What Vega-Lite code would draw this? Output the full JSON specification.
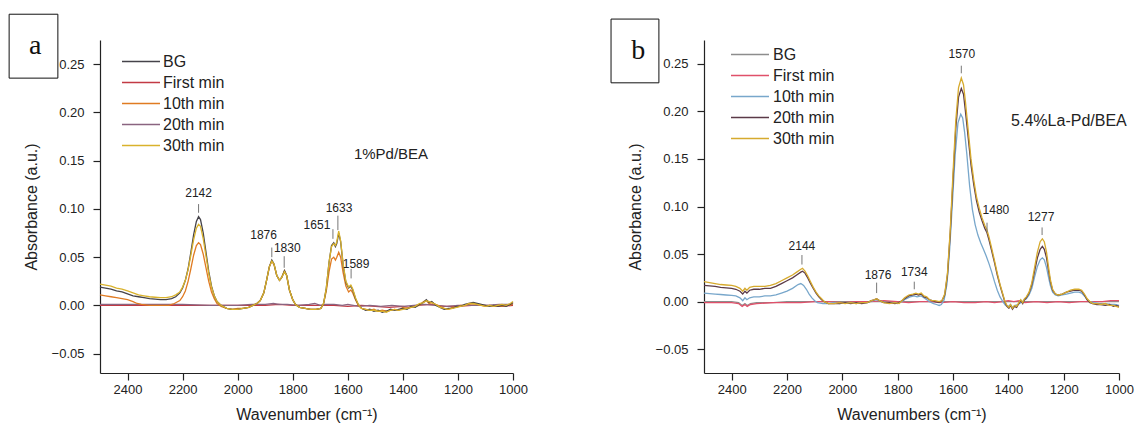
{
"$schema":"https://vega.github.io/schema/vega-lite/v6.json",
"background":"white",
"autosize":{"type":"pad"},
"padding":{"left":8,"top":13,"right":4,"bottom":4},
"bounds":"flush",
"spacing":191,
"config":{"view":{"stroke":null},"font":"Liberation Sans",
"axis":{"grid":false,"domainColor":"#222","domainWidth":1.2,"tickColor":"#222","tickWidth":1.2,"labelFont":"Liberation Sans","labelFontSize":13,"labelColor":"#222","titleFont":"Liberation Sans","titleFontSize":16,"titleFontWeight":"normal","titleColor":"#222","labelPadding":3,"labelFlush":false,"labelOverlap":false,"labelBound":false}},
"resolve":{"scale":{"color":"independent","x":"independent","y":"independent"},"legend":{"color":"independent"},"axis":{"x":"independent","y":"independent"}},
"datasets":{
"la":[
{"s":"First min","w":2500,"v":0.000},{"s":"First min","w":2450,"v":0.000},{"s":"First min","w":2400,"v":0.000},{"s":"First min","w":2350,"v":0.000},{"s":"First min","w":2300,"v":0.000},{"s":"First min","w":2250,"v":0.000},{"s":"First min","w":2200,"v":0.000},{"s":"First min","w":2150,"v":0.000},{"s":"First min","w":2100,"v":0.000},{"s":"First min","w":2050,"v":0.000},{"s":"First min","w":2000,"v":0.000},{"s":"First min","w":1950,"v":0.000},{"s":"First min","w":1900,"v":0.000},{"s":"First min","w":1850,"v":0.001},{"s":"First min","w":1800,"v":0.000},{"s":"First min","w":1750,"v":0.000},{"s":"First min","w":1700,"v":0.000},{"s":"First min","w":1650,"v":0.000},{"s":"First min","w":1600,"v":-0.001},{"s":"First min","w":1550,"v":0.000},{"s":"First min","w":1500,"v":-0.001},{"s":"First min","w":1450,"v":-0.002},{"s":"First min","w":1400,"v":-0.001},{"s":"First min","w":1380,"v":-0.002},{"s":"First min","w":1350,"v":0.000},{"s":"First min","w":1300,"v":0.001},{"s":"First min","w":1250,"v":-0.001},{"s":"First min","w":1200,"v":-0.001},{"s":"First min","w":1150,"v":0.000},{"s":"First min","w":1100,"v":0.000},{"s":"First min","w":1050,"v":-0.001},{"s":"First min","w":1000,"v":0.000},
{"s":"20th min","w":2500,"v":0.001},{"s":"20th min","w":2400,"v":0.001},{"s":"20th min","w":2300,"v":0.001},{"s":"20th min","w":2200,"v":0.001},{"s":"20th min","w":2100,"v":0.000},{"s":"20th min","w":2000,"v":0.000},{"s":"20th min","w":1950,"v":0.001},{"s":"20th min","w":1900,"v":0.001},{"s":"20th min","w":1870,"v":0.002},{"s":"20th min","w":1850,"v":0.001},{"s":"20th min","w":1820,"v":0.001},{"s":"20th min","w":1780,"v":0.000},{"s":"20th min","w":1740,"v":0.001},{"s":"20th min","w":1720,"v":0.002},{"s":"20th min","w":1700,"v":0.000},{"s":"20th min","w":1680,"v":0.001},{"s":"20th min","w":1650,"v":0.001},{"s":"20th min","w":1620,"v":0.000},{"s":"20th min","w":1600,"v":0.001},{"s":"20th min","w":1560,"v":-0.001},{"s":"20th min","w":1520,"v":0.000},{"s":"20th min","w":1480,"v":-0.001},{"s":"20th min","w":1440,"v":0.000},{"s":"20th min","w":1400,"v":-0.001},{"s":"20th min","w":1360,"v":0.000},{"s":"20th min","w":1320,"v":0.001},{"s":"20th min","w":1280,"v":0.000},{"s":"20th min","w":1240,"v":-0.001},{"s":"20th min","w":1200,"v":0.000},{"s":"20th min","w":1150,"v":0.000},{"s":"20th min","w":1100,"v":0.000},{"s":"20th min","w":1050,"v":0.001},{"s":"20th min","w":1000,"v":0.001},
{"s":"10th min","w":2500,"v":0.011},{"s":"10th min","w":2480,"v":0.010},{"s":"10th min","w":2460,"v":0.009},{"s":"10th min","w":2440,"v":0.008},{"s":"10th min","w":2420,"v":0.007},{"s":"10th min","w":2400,"v":0.006},{"s":"10th min","w":2380,"v":0.004},{"s":"10th min","w":2365,"v":0.002},{"s":"10th min","w":2350,"v":0.001},{"s":"10th min","w":2320,"v":0.000},{"s":"10th min","w":2280,"v":0.000},{"s":"10th min","w":2250,"v":0.000},{"s":"10th min","w":2230,"v":0.002},{"s":"10th min","w":2210,"v":0.005},{"s":"10th min","w":2200,"v":0.009},{"s":"10th min","w":2190,"v":0.015},{"s":"10th min","w":2180,"v":0.025},{"s":"10th min","w":2170,"v":0.038},{"s":"10th min","w":2160,"v":0.052},{"s":"10th min","w":2150,"v":0.062},{"s":"10th min","w":2142,"v":0.065},{"s":"10th min","w":2135,"v":0.063},{"s":"10th min","w":2125,"v":0.053},{"s":"10th min","w":2115,"v":0.039},{"s":"10th min","w":2105,"v":0.025},{"s":"10th min","w":2095,"v":0.014},{"s":"10th min","w":2085,"v":0.007},{"s":"10th min","w":2075,"v":0.002},{"s":"10th min","w":2060,"v":-0.001},{"s":"10th min","w":2040,"v":-0.003},{"s":"10th min","w":2020,"v":-0.004},{"s":"10th min","w":2000,"v":-0.003},{"s":"10th min","w":1980,"v":-0.003},{"s":"10th min","w":1960,"v":-0.002},{"s":"10th min","w":1945,"v":0.000},{"s":"10th min","w":1930,"v":0.002},{"s":"10th min","w":1918,"v":0.005},{"s":"10th min","w":1905,"v":0.013},{"s":"10th min","w":1895,"v":0.026},{"s":"10th min","w":1885,"v":0.040},{"s":"10th min","w":1876,"v":0.046},{"s":"10th min","w":1868,"v":0.042},{"s":"10th min","w":1858,"v":0.031},{"s":"10th min","w":1848,"v":0.026},{"s":"10th min","w":1840,"v":0.029},{"s":"10th min","w":1830,"v":0.036},{"s":"10th min","w":1822,"v":0.031},{"s":"10th min","w":1812,"v":0.016},{"s":"10th min","w":1800,"v":0.006},{"s":"10th min","w":1790,"v":0.001},{"s":"10th min","w":1775,"v":-0.002},{"s":"10th min","w":1755,"v":-0.003},{"s":"10th min","w":1735,"v":-0.004},{"s":"10th min","w":1715,"v":-0.004},{"s":"10th min","w":1698,"v":-0.003},{"s":"10th min","w":1688,"v":0.002},{"s":"10th min","w":1678,"v":0.015},{"s":"10th min","w":1668,"v":0.035},{"s":"10th min","w":1659,"v":0.048},{"s":"10th min","w":1651,"v":0.050},{"s":"10th min","w":1645,"v":0.047},{"s":"10th min","w":1640,"v":0.050},{"s":"10th min","w":1633,"v":0.055},{"s":"10th min","w":1626,"v":0.050},{"s":"10th min","w":1617,"v":0.034},{"s":"10th min","w":1607,"v":0.020},{"s":"10th min","w":1597,"v":0.014},{"s":"10th min","w":1589,"v":0.016},{"s":"10th min","w":1582,"v":0.013},{"s":"10th min","w":1572,"v":0.006},{"s":"10th min","w":1562,"v":0.000},{"s":"10th min","w":1550,"v":-0.003},{"s":"10th min","w":1535,"v":-0.004},{"s":"10th min","w":1520,"v":-0.005},{"s":"10th min","w":1505,"v":-0.004},{"s":"10th min","w":1490,"v":-0.006},{"s":"10th min","w":1475,"v":-0.005},{"s":"10th min","w":1460,"v":-0.006},{"s":"10th min","w":1445,"v":-0.005},{"s":"10th min","w":1430,"v":-0.004},{"s":"10th min","w":1415,"v":-0.005},{"s":"10th min","w":1400,"v":-0.002},{"s":"10th min","w":1385,"v":-0.003},{"s":"10th min","w":1370,"v":-0.002},{"s":"10th min","w":1355,"v":-0.001},{"s":"10th min","w":1340,"v":0.000},{"s":"10th min","w":1325,"v":0.004},{"s":"10th min","w":1315,"v":0.005},{"s":"10th min","w":1305,"v":0.002},{"s":"10th min","w":1295,"v":0.003},{"s":"10th min","w":1280,"v":0.001},{"s":"10th min","w":1265,"v":-0.001},{"s":"10th min","w":1250,"v":-0.003},{"s":"10th min","w":1235,"v":-0.004},{"s":"10th min","w":1220,"v":-0.002},{"s":"10th min","w":1205,"v":-0.002},{"s":"10th min","w":1190,"v":0.000},{"s":"10th min","w":1175,"v":0.000},{"s":"10th min","w":1160,"v":0.001},{"s":"10th min","w":1145,"v":0.002},{"s":"10th min","w":1130,"v":0.001},{"s":"10th min","w":1115,"v":0.000},{"s":"10th min","w":1100,"v":-0.001},{"s":"10th min","w":1085,"v":0.000},{"s":"10th min","w":1070,"v":-0.001},{"s":"10th min","w":1055,"v":0.000},{"s":"10th min","w":1040,"v":-0.001},{"s":"10th min","w":1025,"v":0.000},{"s":"10th min","w":1010,"v":0.000},{"s":"10th min","w":1000,"v":0.002},
{"s":"BG","w":2500,"v":0.019},{"s":"BG","w":2480,"v":0.018},{"s":"BG","w":2460,"v":0.017},{"s":"BG","w":2440,"v":0.015},{"s":"BG","w":2420,"v":0.014},{"s":"BG","w":2400,"v":0.012},{"s":"BG","w":2380,"v":0.010},{"s":"BG","w":2360,"v":0.009},{"s":"BG","w":2340,"v":0.008},{"s":"BG","w":2320,"v":0.007},{"s":"BG","w":2300,"v":0.0065},{"s":"BG","w":2280,"v":0.006},{"s":"BG","w":2260,"v":0.006},{"s":"BG","w":2240,"v":0.007},{"s":"BG","w":2225,"v":0.009},{"s":"BG","w":2210,"v":0.013},{"s":"BG","w":2200,"v":0.018},{"s":"BG","w":2190,"v":0.026},{"s":"BG","w":2180,"v":0.038},{"s":"BG","w":2170,"v":0.055},{"s":"BG","w":2160,"v":0.073},{"s":"BG","w":2150,"v":0.087},{"s":"BG","w":2142,"v":0.092},{"s":"BG","w":2135,"v":0.089},{"s":"BG","w":2125,"v":0.075},{"s":"BG","w":2115,"v":0.055},{"s":"BG","w":2105,"v":0.035},{"s":"BG","w":2095,"v":0.020},{"s":"BG","w":2085,"v":0.010},{"s":"BG","w":2075,"v":0.004},{"s":"BG","w":2060,"v":0.000},{"s":"BG","w":2040,"v":-0.003},{"s":"BG","w":2020,"v":-0.004},{"s":"BG","w":2000,"v":-0.004},{"s":"BG","w":1980,"v":-0.003},{"s":"BG","w":1960,"v":-0.002},{"s":"BG","w":1945,"v":0.000},{"s":"BG","w":1930,"v":0.002},{"s":"BG","w":1918,"v":0.005},{"s":"BG","w":1905,"v":0.013},{"s":"BG","w":1895,"v":0.026},{"s":"BG","w":1885,"v":0.040},{"s":"BG","w":1876,"v":0.047},{"s":"BG","w":1868,"v":0.043},{"s":"BG","w":1858,"v":0.031},{"s":"BG","w":1848,"v":0.026},{"s":"BG","w":1840,"v":0.029},{"s":"BG","w":1830,"v":0.036},{"s":"BG","w":1822,"v":0.031},{"s":"BG","w":1812,"v":0.016},{"s":"BG","w":1800,"v":0.006},{"s":"BG","w":1790,"v":0.001},{"s":"BG","w":1775,"v":-0.002},{"s":"BG","w":1755,"v":-0.003},{"s":"BG","w":1735,"v":-0.004},{"s":"BG","w":1715,"v":-0.004},{"s":"BG","w":1698,"v":-0.003},{"s":"BG","w":1688,"v":0.002},{"s":"BG","w":1678,"v":0.018},{"s":"BG","w":1668,"v":0.045},{"s":"BG","w":1659,"v":0.062},{"s":"BG","w":1651,"v":0.065},{"s":"BG","w":1645,"v":0.061},{"s":"BG","w":1640,"v":0.064},{"s":"BG","w":1633,"v":0.075},{"s":"BG","w":1626,"v":0.066},{"s":"BG","w":1617,"v":0.042},{"s":"BG","w":1607,"v":0.024},{"s":"BG","w":1597,"v":0.018},{"s":"BG","w":1589,"v":0.020},{"s":"BG","w":1582,"v":0.016},{"s":"BG","w":1572,"v":0.007},{"s":"BG","w":1562,"v":0.001},{"s":"BG","w":1550,"v":-0.003},{"s":"BG","w":1535,"v":-0.005},{"s":"BG","w":1520,"v":-0.004},{"s":"BG","w":1505,"v":-0.006},{"s":"BG","w":1490,"v":-0.005},{"s":"BG","w":1475,"v":-0.007},{"s":"BG","w":1460,"v":-0.006},{"s":"BG","w":1445,"v":-0.004},{"s":"BG","w":1430,"v":-0.005},{"s":"BG","w":1415,"v":-0.004},{"s":"BG","w":1400,"v":-0.003},{"s":"BG","w":1385,"v":-0.004},{"s":"BG","w":1370,"v":-0.001},{"s":"BG","w":1355,"v":-0.002},{"s":"BG","w":1340,"v":0.001},{"s":"BG","w":1325,"v":0.003},{"s":"BG","w":1315,"v":0.006},{"s":"BG","w":1305,"v":0.003},{"s":"BG","w":1295,"v":0.004},{"s":"BG","w":1280,"v":0.000},{"s":"BG","w":1265,"v":-0.002},{"s":"BG","w":1250,"v":-0.004},{"s":"BG","w":1235,"v":-0.003},{"s":"BG","w":1220,"v":-0.003},{"s":"BG","w":1205,"v":-0.001},{"s":"BG","w":1190,"v":-0.001},{"s":"BG","w":1175,"v":0.001},{"s":"BG","w":1160,"v":0.002},{"s":"BG","w":1145,"v":0.003},{"s":"BG","w":1130,"v":0.002},{"s":"BG","w":1115,"v":0.001},{"s":"BG","w":1100,"v":0.000},{"s":"BG","w":1085,"v":-0.001},{"s":"BG","w":1070,"v":0.000},{"s":"BG","w":1055,"v":-0.001},{"s":"BG","w":1040,"v":0.000},{"s":"BG","w":1025,"v":-0.001},{"s":"BG","w":1010,"v":0.001},{"s":"BG","w":1000,"v":0.003},
{"s":"30th min","w":2500,"v":0.022},{"s":"30th min","w":2480,"v":0.021},{"s":"30th min","w":2460,"v":0.020},{"s":"30th min","w":2440,"v":0.018},{"s":"30th min","w":2420,"v":0.017},{"s":"30th min","w":2400,"v":0.015},{"s":"30th min","w":2380,"v":0.013},{"s":"30th min","w":2360,"v":0.011},{"s":"30th min","w":2340,"v":0.010},{"s":"30th min","w":2320,"v":0.009},{"s":"30th min","w":2300,"v":0.0085},{"s":"30th min","w":2280,"v":0.008},{"s":"30th min","w":2260,"v":0.008},{"s":"30th min","w":2240,"v":0.009},{"s":"30th min","w":2225,"v":0.011},{"s":"30th min","w":2210,"v":0.014},{"s":"30th min","w":2200,"v":0.019},{"s":"30th min","w":2190,"v":0.026},{"s":"30th min","w":2180,"v":0.037},{"s":"30th min","w":2170,"v":0.052},{"s":"30th min","w":2160,"v":0.068},{"s":"30th min","w":2150,"v":0.080},{"s":"30th min","w":2142,"v":0.084},{"s":"30th min","w":2135,"v":0.082},{"s":"30th min","w":2125,"v":0.069},{"s":"30th min","w":2115,"v":0.051},{"s":"30th min","w":2105,"v":0.033},{"s":"30th min","w":2095,"v":0.019},{"s":"30th min","w":2085,"v":0.010},{"s":"30th min","w":2075,"v":0.004},{"s":"30th min","w":2060,"v":0.000},{"s":"30th min","w":2040,"v":-0.003},{"s":"30th min","w":2020,"v":-0.004},{"s":"30th min","w":2000,"v":-0.004},{"s":"30th min","w":1980,"v":-0.003},{"s":"30th min","w":1960,"v":-0.002},{"s":"30th min","w":1945,"v":0.000},{"s":"30th min","w":1930,"v":0.002},{"s":"30th min","w":1918,"v":0.005},{"s":"30th min","w":1905,"v":0.013},{"s":"30th min","w":1895,"v":0.026},{"s":"30th min","w":1885,"v":0.040},{"s":"30th min","w":1876,"v":0.046},{"s":"30th min","w":1868,"v":0.043},{"s":"30th min","w":1858,"v":0.031},{"s":"30th min","w":1848,"v":0.026},{"s":"30th min","w":1840,"v":0.029},{"s":"30th min","w":1830,"v":0.035},{"s":"30th min","w":1822,"v":0.031},{"s":"30th min","w":1812,"v":0.016},{"s":"30th min","w":1800,"v":0.006},{"s":"30th min","w":1790,"v":0.001},{"s":"30th min","w":1775,"v":-0.002},{"s":"30th min","w":1755,"v":-0.003},{"s":"30th min","w":1735,"v":-0.004},{"s":"30th min","w":1715,"v":-0.004},{"s":"30th min","w":1698,"v":-0.003},{"s":"30th min","w":1688,"v":0.002},{"s":"30th min","w":1678,"v":0.018},{"s":"30th min","w":1668,"v":0.045},{"s":"30th min","w":1659,"v":0.061},{"s":"30th min","w":1651,"v":0.064},{"s":"30th min","w":1645,"v":0.062},{"s":"30th min","w":1640,"v":0.066},{"s":"30th min","w":1633,"v":0.077},{"s":"30th min","w":1626,"v":0.067},{"s":"30th min","w":1617,"v":0.043},{"s":"30th min","w":1607,"v":0.025},{"s":"30th min","w":1597,"v":0.019},{"s":"30th min","w":1589,"v":0.021},{"s":"30th min","w":1582,"v":0.017},{"s":"30th min","w":1572,"v":0.008},{"s":"30th min","w":1562,"v":0.001},{"s":"30th min","w":1550,"v":-0.003},{"s":"30th min","w":1535,"v":-0.004},{"s":"30th min","w":1520,"v":-0.005},{"s":"30th min","w":1505,"v":-0.005},{"s":"30th min","w":1490,"v":-0.006},{"s":"30th min","w":1475,"v":-0.006},{"s":"30th min","w":1460,"v":-0.007},{"s":"30th min","w":1445,"v":-0.005},{"s":"30th min","w":1430,"v":-0.004},{"s":"30th min","w":1415,"v":-0.005},{"s":"30th min","w":1400,"v":-0.004},{"s":"30th min","w":1385,"v":-0.003},{"s":"30th min","w":1370,"v":-0.002},{"s":"30th min","w":1355,"v":-0.001},{"s":"30th min","w":1340,"v":0.002},{"s":"30th min","w":1325,"v":0.003},{"s":"30th min","w":1315,"v":0.005},{"s":"30th min","w":1305,"v":0.004},{"s":"30th min","w":1295,"v":0.003},{"s":"30th min","w":1280,"v":0.001},{"s":"30th min","w":1265,"v":-0.002},{"s":"30th min","w":1250,"v":-0.003},{"s":"30th min","w":1235,"v":-0.004},{"s":"30th min","w":1220,"v":-0.003},{"s":"30th min","w":1205,"v":-0.002},{"s":"30th min","w":1190,"v":-0.001},{"s":"30th min","w":1175,"v":0.000},{"s":"30th min","w":1160,"v":0.002},{"s":"30th min","w":1145,"v":0.002},{"s":"30th min","w":1130,"v":0.001},{"s":"30th min","w":1115,"v":0.000},{"s":"30th min","w":1100,"v":-0.001},{"s":"30th min","w":1085,"v":0.000},{"s":"30th min","w":1070,"v":-0.001},{"s":"30th min","w":1055,"v":0.000},{"s":"30th min","w":1040,"v":0.001},{"s":"30th min","w":1025,"v":0.000},{"s":"30th min","w":1010,"v":0.002},{"s":"30th min","w":1000,"v":0.004}
],
"lb":[
{"s":"BG","w":2500,"v":0.000},{"s":"BG","w":2450,"v":0.000},{"s":"BG","w":2400,"v":0.000},{"s":"BG","w":2375,"v":-0.001},{"s":"BG","w":2362,"v":-0.004},{"s":"BG","w":2352,"v":-0.002},{"s":"BG","w":2344,"v":-0.004},{"s":"BG","w":2332,"v":-0.002},{"s":"BG","w":2310,"v":-0.001},{"s":"BG","w":2250,"v":-0.001},{"s":"BG","w":2200,"v":0.000},{"s":"BG","w":2100,"v":0.000},{"s":"BG","w":2000,"v":0.000},{"s":"BG","w":1900,"v":0.000},{"s":"BG","w":1800,"v":0.000},{"s":"BG","w":1700,"v":0.000},{"s":"BG","w":1600,"v":0.000},{"s":"BG","w":1500,"v":0.000},{"s":"BG","w":1400,"v":0.000},{"s":"BG","w":1300,"v":0.000},{"s":"BG","w":1200,"v":0.000},{"s":"BG","w":1100,"v":0.000},{"s":"BG","w":1000,"v":0.000},
{"s":"First min","w":2500,"v":-0.001},{"s":"First min","w":2450,"v":-0.001},{"s":"First min","w":2400,"v":-0.001},{"s":"First min","w":2375,"v":-0.002},{"s":"First min","w":2362,"v":-0.005},{"s":"First min","w":2352,"v":-0.003},{"s":"First min","w":2344,"v":-0.005},{"s":"First min","w":2332,"v":-0.003},{"s":"First min","w":2310,"v":-0.002},{"s":"First min","w":2250,"v":-0.001},{"s":"First min","w":2200,"v":-0.001},{"s":"First min","w":2150,"v":-0.001},{"s":"First min","w":2100,"v":0.000},{"s":"First min","w":2050,"v":0.000},{"s":"First min","w":2000,"v":-0.001},{"s":"First min","w":1950,"v":0.000},{"s":"First min","w":1900,"v":0.000},{"s":"First min","w":1850,"v":0.001},{"s":"First min","w":1800,"v":0.000},{"s":"First min","w":1760,"v":-0.001},{"s":"First min","w":1720,"v":0.000},{"s":"First min","w":1680,"v":0.000},{"s":"First min","w":1640,"v":-0.001},{"s":"First min","w":1600,"v":0.000},{"s":"First min","w":1560,"v":-0.001},{"s":"First min","w":1520,"v":-0.001},{"s":"First min","w":1480,"v":0.000},{"s":"First min","w":1450,"v":-0.001},{"s":"First min","w":1420,"v":0.000},{"s":"First min","w":1400,"v":0.001},{"s":"First min","w":1380,"v":0.000},{"s":"First min","w":1360,"v":0.001},{"s":"First min","w":1340,"v":-0.001},{"s":"First min","w":1300,"v":0.000},{"s":"First min","w":1260,"v":-0.001},{"s":"First min","w":1220,"v":0.000},{"s":"First min","w":1180,"v":-0.001},{"s":"First min","w":1140,"v":0.000},{"s":"First min","w":1100,"v":0.000},{"s":"First min","w":1060,"v":0.000},{"s":"First min","w":1030,"v":0.001},{"s":"First min","w":1000,"v":0.001},
{"s":"10th min","w":2500,"v":0.009},{"s":"10th min","w":2480,"v":0.0085},{"s":"10th min","w":2460,"v":0.008},{"s":"10th min","w":2440,"v":0.0075},{"s":"10th min","w":2420,"v":0.007},{"s":"10th min","w":2400,"v":0.0065},{"s":"10th min","w":2385,"v":0.006},{"s":"10th min","w":2370,"v":0.004},{"s":"10th min","w":2360,"v":0.001},{"s":"10th min","w":2352,"v":0.004},{"s":"10th min","w":2345,"v":0.002},{"s":"10th min","w":2335,"v":0.004},{"s":"10th min","w":2320,"v":0.005},{"s":"10th min","w":2300,"v":0.005},{"s":"10th min","w":2280,"v":0.006},{"s":"10th min","w":2260,"v":0.006},{"s":"10th min","w":2240,"v":0.007},{"s":"10th min","w":2220,"v":0.009},{"s":"10th min","w":2200,"v":0.011},{"s":"10th min","w":2180,"v":0.014},{"s":"10th min","w":2160,"v":0.018},{"s":"10th min","w":2150,"v":0.019},{"s":"10th min","w":2140,"v":0.017},{"s":"10th min","w":2130,"v":0.013},{"s":"10th min","w":2120,"v":0.008},{"s":"10th min","w":2110,"v":0.004},{"s":"10th min","w":2100,"v":0.001},{"s":"10th min","w":2090,"v":-0.001},{"s":"10th min","w":2070,"v":-0.002},{"s":"10th min","w":2050,"v":-0.002},{"s":"10th min","w":2030,"v":-0.001},{"s":"10th min","w":2010,"v":-0.002},{"s":"10th min","w":1990,"v":-0.001},{"s":"10th min","w":1970,"v":-0.001},{"s":"10th min","w":1950,"v":-0.002},{"s":"10th min","w":1930,"v":-0.001},{"s":"10th min","w":1910,"v":-0.001},{"s":"10th min","w":1890,"v":0.001},{"s":"10th min","w":1876,"v":0.002},{"s":"10th min","w":1860,"v":0.000},{"s":"10th min","w":1840,"v":-0.001},{"s":"10th min","w":1820,"v":-0.001},{"s":"10th min","w":1800,"v":-0.002},{"s":"10th min","w":1785,"v":0.000},{"s":"10th min","w":1770,"v":0.003},{"s":"10th min","w":1755,"v":0.005},{"s":"10th min","w":1740,"v":0.006},{"s":"10th min","w":1730,"v":0.005},{"s":"10th min","w":1715,"v":0.006},{"s":"10th min","w":1700,"v":0.003},{"s":"10th min","w":1685,"v":0.000},{"s":"10th min","w":1670,"v":-0.002},{"s":"10th min","w":1660,"v":-0.003},{"s":"10th min","w":1650,"v":-0.004},{"s":"10th min","w":1642,"v":-0.003},{"s":"10th min","w":1632,"v":0.002},{"s":"10th min","w":1622,"v":0.018},{"s":"10th min","w":1612,"v":0.055},{"s":"10th min","w":1602,"v":0.105},{"s":"10th min","w":1592,"v":0.155},{"s":"10th min","w":1582,"v":0.188},{"s":"10th min","w":1572,"v":0.197},{"s":"10th min","w":1565,"v":0.193},{"s":"10th min","w":1558,"v":0.178},{"s":"10th min","w":1550,"v":0.155},{"s":"10th min","w":1540,"v":0.122},{"s":"10th min","w":1530,"v":0.097},{"s":"10th min","w":1520,"v":0.081},{"s":"10th min","w":1510,"v":0.070},{"s":"10th min","w":1500,"v":0.062},{"s":"10th min","w":1490,"v":0.055},{"s":"10th min","w":1480,"v":0.048},{"s":"10th min","w":1470,"v":0.040},{"s":"10th min","w":1460,"v":0.031},{"s":"10th min","w":1450,"v":0.021},{"s":"10th min","w":1440,"v":0.012},{"s":"10th min","w":1430,"v":0.005},{"s":"10th min","w":1420,"v":0.000},{"s":"10th min","w":1410,"v":-0.004},{"s":"10th min","w":1400,"v":-0.005},{"s":"10th min","w":1392,"v":-0.003},{"s":"10th min","w":1385,"v":-0.006},{"s":"10th min","w":1375,"v":-0.004},{"s":"10th min","w":1365,"v":-0.003},{"s":"10th min","w":1355,"v":-0.001},{"s":"10th min","w":1345,"v":0.001},{"s":"10th min","w":1335,"v":0.003},{"s":"10th min","w":1325,"v":0.007},{"s":"10th min","w":1315,"v":0.014},{"s":"10th min","w":1305,"v":0.026},{"s":"10th min","w":1295,"v":0.037},{"s":"10th min","w":1285,"v":0.044},{"s":"10th min","w":1277,"v":0.046},{"s":"10th min","w":1270,"v":0.044},{"s":"10th min","w":1262,"v":0.036},{"s":"10th min","w":1255,"v":0.026},{"s":"10th min","w":1248,"v":0.017},{"s":"10th min","w":1240,"v":0.010},{"s":"10th min","w":1230,"v":0.007},{"s":"10th min","w":1220,"v":0.006},{"s":"10th min","w":1205,"v":0.007},{"s":"10th min","w":1190,"v":0.008},{"s":"10th min","w":1175,"v":0.009},{"s":"10th min","w":1160,"v":0.010},{"s":"10th min","w":1145,"v":0.010},{"s":"10th min","w":1135,"v":0.009},{"s":"10th min","w":1125,"v":0.006},{"s":"10th min","w":1115,"v":0.002},{"s":"10th min","w":1105,"v":0.000},{"s":"10th min","w":1090,"v":-0.001},{"s":"10th min","w":1070,"v":-0.002},{"s":"10th min","w":1050,"v":-0.002},{"s":"10th min","w":1030,"v":-0.003},{"s":"10th min","w":1015,"v":-0.003},{"s":"10th min","w":1000,"v":-0.004},
{"s":"20th min","w":2500,"v":0.017},{"s":"20th min","w":2480,"v":0.0165},{"s":"20th min","w":2460,"v":0.016},{"s":"20th min","w":2440,"v":0.015},{"s":"20th min","w":2420,"v":0.0145},{"s":"20th min","w":2400,"v":0.014},{"s":"20th min","w":2385,"v":0.013},{"s":"20th min","w":2370,"v":0.011},{"s":"20th min","w":2360,"v":0.008},{"s":"20th min","w":2352,"v":0.011},{"s":"20th min","w":2345,"v":0.009},{"s":"20th min","w":2335,"v":0.012},{"s":"20th min","w":2320,"v":0.013},{"s":"20th min","w":2300,"v":0.013},{"s":"20th min","w":2280,"v":0.014},{"s":"20th min","w":2260,"v":0.014},{"s":"20th min","w":2240,"v":0.016},{"s":"20th min","w":2220,"v":0.019},{"s":"20th min","w":2200,"v":0.022},{"s":"20th min","w":2180,"v":0.025},{"s":"20th min","w":2165,"v":0.028},{"s":"20th min","w":2150,"v":0.031},{"s":"20th min","w":2144,"v":0.032},{"s":"20th min","w":2135,"v":0.030},{"s":"20th min","w":2125,"v":0.025},{"s":"20th min","w":2115,"v":0.019},{"s":"20th min","w":2105,"v":0.014},{"s":"20th min","w":2095,"v":0.009},{"s":"20th min","w":2085,"v":0.005},{"s":"20th min","w":2075,"v":0.002},{"s":"20th min","w":2065,"v":0.000},{"s":"20th min","w":2050,"v":-0.002},{"s":"20th min","w":2030,"v":-0.002},{"s":"20th min","w":2010,"v":-0.002},{"s":"20th min","w":1990,"v":-0.001},{"s":"20th min","w":1970,"v":-0.002},{"s":"20th min","w":1950,"v":-0.001},{"s":"20th min","w":1930,"v":-0.002},{"s":"20th min","w":1910,"v":-0.001},{"s":"20th min","w":1895,"v":0.001},{"s":"20th min","w":1885,"v":0.002},{"s":"20th min","w":1876,"v":0.003},{"s":"20th min","w":1865,"v":0.001},{"s":"20th min","w":1850,"v":-0.001},{"s":"20th min","w":1830,"v":-0.001},{"s":"20th min","w":1810,"v":-0.002},{"s":"20th min","w":1795,"v":-0.001},{"s":"20th min","w":1785,"v":0.001},{"s":"20th min","w":1775,"v":0.003},{"s":"20th min","w":1760,"v":0.006},{"s":"20th min","w":1745,"v":0.007},{"s":"20th min","w":1734,"v":0.008},{"s":"20th min","w":1725,"v":0.007},{"s":"20th min","w":1715,"v":0.008},{"s":"20th min","w":1705,"v":0.005},{"s":"20th min","w":1695,"v":0.004},{"s":"20th min","w":1685,"v":0.002},{"s":"20th min","w":1675,"v":0.001},{"s":"20th min","w":1665,"v":0.000},{"s":"20th min","w":1650,"v":-0.001},{"s":"20th min","w":1640,"v":0.001},{"s":"20th min","w":1630,"v":0.007},{"s":"20th min","w":1620,"v":0.028},{"s":"20th min","w":1610,"v":0.072},{"s":"20th min","w":1600,"v":0.128},{"s":"20th min","w":1590,"v":0.182},{"s":"20th min","w":1580,"v":0.215},{"s":"20th min","w":1570,"v":0.224},{"s":"20th min","w":1562,"v":0.218},{"s":"20th min","w":1555,"v":0.200},{"s":"20th min","w":1545,"v":0.172},{"s":"20th min","w":1535,"v":0.144},{"s":"20th min","w":1525,"v":0.123},{"s":"20th min","w":1515,"v":0.106},{"s":"20th min","w":1505,"v":0.094},{"s":"20th min","w":1495,"v":0.085},{"s":"20th min","w":1485,"v":0.077},{"s":"20th min","w":1478,"v":0.073},{"s":"20th min","w":1470,"v":0.065},{"s":"20th min","w":1460,"v":0.053},{"s":"20th min","w":1450,"v":0.041},{"s":"20th min","w":1440,"v":0.028},{"s":"20th min","w":1430,"v":0.017},{"s":"20th min","w":1420,"v":0.007},{"s":"20th min","w":1412,"v":-0.001},{"s":"20th min","w":1405,"v":-0.005},{"s":"20th min","w":1398,"v":-0.007},{"s":"20th min","w":1392,"v":-0.004},{"s":"20th min","w":1385,"v":-0.008},{"s":"20th min","w":1378,"v":-0.005},{"s":"20th min","w":1370,"v":-0.006},{"s":"20th min","w":1362,"v":-0.002},{"s":"20th min","w":1355,"v":0.001},{"s":"20th min","w":1348,"v":-0.002},{"s":"20th min","w":1342,"v":0.002},{"s":"20th min","w":1335,"v":0.004},{"s":"20th min","w":1325,"v":0.009},{"s":"20th min","w":1315,"v":0.018},{"s":"20th min","w":1305,"v":0.032},{"s":"20th min","w":1295,"v":0.046},{"s":"20th min","w":1285,"v":0.055},{"s":"20th min","w":1277,"v":0.058},{"s":"20th min","w":1270,"v":0.055},{"s":"20th min","w":1262,"v":0.046},{"s":"20th min","w":1255,"v":0.033},{"s":"20th min","w":1248,"v":0.021},{"s":"20th min","w":1240,"v":0.012},{"s":"20th min","w":1230,"v":0.008},{"s":"20th min","w":1220,"v":0.007},{"s":"20th min","w":1205,"v":0.008},{"s":"20th min","w":1190,"v":0.010},{"s":"20th min","w":1175,"v":0.011},{"s":"20th min","w":1160,"v":0.012},{"s":"20th min","w":1145,"v":0.012},{"s":"20th min","w":1135,"v":0.011},{"s":"20th min","w":1125,"v":0.007},{"s":"20th min","w":1115,"v":0.002},{"s":"20th min","w":1105,"v":-0.001},{"s":"20th min","w":1095,"v":-0.002},{"s":"20th min","w":1080,"v":-0.003},{"s":"20th min","w":1065,"v":-0.003},{"s":"20th min","w":1050,"v":-0.004},{"s":"20th min","w":1035,"v":-0.003},{"s":"20th min","w":1020,"v":-0.005},{"s":"20th min","w":1010,"v":-0.004},{"s":"20th min","w":1000,"v":-0.005},
{"s":"30th min","w":2500,"v":0.021},{"s":"30th min","w":2480,"v":0.020},{"s":"30th min","w":2460,"v":0.019},{"s":"30th min","w":2440,"v":0.018},{"s":"30th min","w":2420,"v":0.0175},{"s":"30th min","w":2400,"v":0.017},{"s":"30th min","w":2385,"v":0.016},{"s":"30th min","w":2370,"v":0.014},{"s":"30th min","w":2360,"v":0.011},{"s":"30th min","w":2352,"v":0.014},{"s":"30th min","w":2345,"v":0.012},{"s":"30th min","w":2335,"v":0.015},{"s":"30th min","w":2320,"v":0.016},{"s":"30th min","w":2300,"v":0.016},{"s":"30th min","w":2280,"v":0.016},{"s":"30th min","w":2260,"v":0.017},{"s":"30th min","w":2240,"v":0.019},{"s":"30th min","w":2220,"v":0.022},{"s":"30th min","w":2200,"v":0.025},{"s":"30th min","w":2180,"v":0.028},{"s":"30th min","w":2165,"v":0.031},{"s":"30th min","w":2150,"v":0.034},{"s":"30th min","w":2144,"v":0.035},{"s":"30th min","w":2135,"v":0.032},{"s":"30th min","w":2125,"v":0.027},{"s":"30th min","w":2115,"v":0.021},{"s":"30th min","w":2105,"v":0.015},{"s":"30th min","w":2095,"v":0.010},{"s":"30th min","w":2085,"v":0.006},{"s":"30th min","w":2075,"v":0.003},{"s":"30th min","w":2065,"v":0.000},{"s":"30th min","w":2050,"v":-0.002},{"s":"30th min","w":2030,"v":-0.002},{"s":"30th min","w":2010,"v":-0.001},{"s":"30th min","w":1990,"v":-0.002},{"s":"30th min","w":1970,"v":-0.001},{"s":"30th min","w":1950,"v":-0.002},{"s":"30th min","w":1930,"v":-0.001},{"s":"30th min","w":1910,"v":-0.001},{"s":"30th min","w":1895,"v":0.001},{"s":"30th min","w":1885,"v":0.002},{"s":"30th min","w":1876,"v":0.003},{"s":"30th min","w":1865,"v":0.001},{"s":"30th min","w":1850,"v":-0.001},{"s":"30th min","w":1830,"v":-0.002},{"s":"30th min","w":1810,"v":-0.001},{"s":"30th min","w":1795,"v":-0.002},{"s":"30th min","w":1785,"v":0.001},{"s":"30th min","w":1775,"v":0.004},{"s":"30th min","w":1760,"v":0.007},{"s":"30th min","w":1745,"v":0.008},{"s":"30th min","w":1734,"v":0.009},{"s":"30th min","w":1725,"v":0.008},{"s":"30th min","w":1715,"v":0.009},{"s":"30th min","w":1705,"v":0.006},{"s":"30th min","w":1695,"v":0.005},{"s":"30th min","w":1685,"v":0.002},{"s":"30th min","w":1675,"v":0.001},{"s":"30th min","w":1665,"v":0.001},{"s":"30th min","w":1650,"v":0.000},{"s":"30th min","w":1640,"v":0.001},{"s":"30th min","w":1630,"v":0.008},{"s":"30th min","w":1620,"v":0.030},{"s":"30th min","w":1610,"v":0.075},{"s":"30th min","w":1600,"v":0.135},{"s":"30th min","w":1590,"v":0.190},{"s":"30th min","w":1580,"v":0.225},{"s":"30th min","w":1570,"v":0.235},{"s":"30th min","w":1562,"v":0.228},{"s":"30th min","w":1555,"v":0.210},{"s":"30th min","w":1545,"v":0.180},{"s":"30th min","w":1535,"v":0.150},{"s":"30th min","w":1525,"v":0.128},{"s":"30th min","w":1515,"v":0.110},{"s":"30th min","w":1505,"v":0.098},{"s":"30th min","w":1495,"v":0.088},{"s":"30th min","w":1485,"v":0.080},{"s":"30th min","w":1478,"v":0.076},{"s":"30th min","w":1470,"v":0.068},{"s":"30th min","w":1460,"v":0.056},{"s":"30th min","w":1450,"v":0.043},{"s":"30th min","w":1440,"v":0.030},{"s":"30th min","w":1430,"v":0.018},{"s":"30th min","w":1420,"v":0.008},{"s":"30th min","w":1412,"v":0.000},{"s":"30th min","w":1405,"v":-0.004},{"s":"30th min","w":1398,"v":-0.006},{"s":"30th min","w":1392,"v":-0.003},{"s":"30th min","w":1385,"v":-0.007},{"s":"30th min","w":1378,"v":-0.004},{"s":"30th min","w":1370,"v":-0.005},{"s":"30th min","w":1362,"v":-0.001},{"s":"30th min","w":1355,"v":0.002},{"s":"30th min","w":1348,"v":-0.001},{"s":"30th min","w":1342,"v":0.003},{"s":"30th min","w":1335,"v":0.005},{"s":"30th min","w":1325,"v":0.010},{"s":"30th min","w":1315,"v":0.020},{"s":"30th min","w":1305,"v":0.036},{"s":"30th min","w":1295,"v":0.052},{"s":"30th min","w":1285,"v":0.063},{"s":"30th min","w":1277,"v":0.066},{"s":"30th min","w":1270,"v":0.063},{"s":"30th min","w":1262,"v":0.052},{"s":"30th min","w":1255,"v":0.037},{"s":"30th min","w":1248,"v":0.023},{"s":"30th min","w":1240,"v":0.013},{"s":"30th min","w":1230,"v":0.008},{"s":"30th min","w":1220,"v":0.007},{"s":"30th min","w":1205,"v":0.008},{"s":"30th min","w":1190,"v":0.010},{"s":"30th min","w":1175,"v":0.012},{"s":"30th min","w":1160,"v":0.013},{"s":"30th min","w":1145,"v":0.013},{"s":"30th min","w":1135,"v":0.012},{"s":"30th min","w":1125,"v":0.008},{"s":"30th min","w":1115,"v":0.003},{"s":"30th min","w":1105,"v":0.000},{"s":"30th min","w":1095,"v":-0.002},{"s":"30th min","w":1080,"v":-0.002},{"s":"30th min","w":1065,"v":-0.003},{"s":"30th min","w":1050,"v":-0.002},{"s":"30th min","w":1035,"v":-0.004},{"s":"30th min","w":1020,"v":-0.004},{"s":"30th min","w":1010,"v":-0.005},{"s":"30th min","w":1000,"v":-0.006}
],
"pa":[
{"w":2142,"v":0.105,"v2":0.096,"tw":2142,"tv":0.116,"t":"2142"},
{"w":1876,"v":0.060,"v2":0.050,"tw":1906,"tv":0.073,"t":"1876"},
{"w":1831,"v":0.051,"v2":0.039,"tw":1820,"tv":0.060,"t":"1830"},
{"w":1654,"v":0.079,"v2":0.069,"tw":1712,"tv":0.083,"t":"1651"},
{"w":1636,"v":0.093,"v2":0.078,"tw":1632,"tv":0.101,"t":"1633"},
{"w":1588,"v":0.038,"v2":0.028,"tw":1570,"tv":0.043,"t":"1589"}
],
"pb":[
{"w":1570,"v":0.248,"v2":0.240,"tw":1568,"tv":0.260,"t":"1570"},
{"w":2146,"v":0.049,"v2":0.039,"tw":2146,"tv":0.059,"t":"2144"},
{"w":1876,"v":0.020,"v2":0.009,"tw":1871,"tv":0.028,"t":"1876"},
{"w":1740,"v":0.021,"v2":0.013,"tw":1740,"tv":0.031,"t":"1734"},
{"w":1477,"v":0.083,"v2":0.073,"tw":1445,"tv":0.096,"t":"1480"},
{"w":1278,"v":0.078,"v2":0.070,"tw":1282,"tv":0.089,"t":"1277"}
],
"ba":[{"w":2830,"w2":2653,"v":0.3017,"v2":0.2355,"tw":2735,"tv":0.2686,"t":"a","sw":1443,"sv":0.157,"st":"1%Pd/BEA"}],
"bb":[{"w":2836,"w2":2663,"v":0.297,"v2":0.230,"tw":2738,"tv":0.2636,"t":"b","sw":1181,"sv":0.190,"st":"5.4%La-Pd/BEA"}]
},
"hconcat":[
{"width":413,"height":333,
"layer":[
{"data":{"name":"la"},"mark":{"type":"line","strokeWidth":1.3},
"encoding":{
"x":{"field":"w","type":"quantitative","title":"Wavenumber (cm⁻¹)","scale":{"domain":[1000,2500],"reverse":true,"nice":false,"zero":false},
"axis":{"values":[2500,2400,2300,2200,2100,2000,1900,1800,1700,1600,1500,1400,1300,1200,1100,1000],"format":"d","labelExpr":"datum.value % 200 == 0 && datum.value != 2500 ? datum.label : ''","tickSize":{"condition":{"test":"datum.value % 200 == 0","value":7},"value":4},"titlePadding":10}},
"y":{"field":"v","type":"quantitative","title":"Absorbance (a.u.)","scale":{"domain":[-0.07,0.275],"nice":false,"zero":false},
"axis":{"values":[-0.05,-0.025,0,0.025,0.05,0.075,0.1,0.125,0.15,0.175,0.2,0.225,0.25,0.275],"format":".2f","labelPadding":9,"labelExpr":"abs(datum.value*20 - round(datum.value*20)) < 0.01 ? datum.label : ''","tickSize":{"condition":{"test":"abs(datum.value*20 - round(datum.value*20)) < 0.01","value":7},"value":4},"titlePadding":12}},
"color":{"field":"s","type":"nominal","scale":{"domain":["BG","First min","10th min","20th min","30th min"],"range":["#45434a","#c23a44","#e07b22","#8a6480","#d9b22c"]},
"legend":{"orient":"none","legendX":40,"legendY":11,"title":null,"symbolType":"M-3,0H1","symbolSize":361,"symbolStrokeWidth":1.5,"labelFontSize":16,"labelFont":"Liberation Sans","labelColor":"#222","rowPadding":2,"padding":0,"labelOffset":2,"labelLimit":200}}}},
{"data":{"name":"pa"},"mark":{"type":"rule","color":"#777","strokeWidth":1},
"encoding":{"x":{"field":"w","type":"quantitative","title":"Wavenumber (cm⁻¹)"},"y":{"field":"v","type":"quantitative","title":"Absorbance (a.u.)"},"y2":{"field":"v2"}}},
{"data":{"name":"pa"},"mark":{"type":"text","fontSize":12,"color":"#222","font":"Liberation Sans"},
"encoding":{"x":{"field":"tw","type":"quantitative","title":"Wavenumber (cm⁻¹)"},"y":{"field":"tv","type":"quantitative","title":"Absorbance (a.u.)"},"text":{"field":"t"}}},
{"data":{"name":"ba"},"mark":{"type":"rect","fill":"white","stroke":"#111","strokeWidth":1},
"encoding":{"x":{"field":"w","type":"quantitative","title":"Wavenumber (cm⁻¹)"},"x2":{"field":"w2"},"y":{"field":"v","type":"quantitative","title":"Absorbance (a.u.)"},"y2":{"field":"v2"}}},
{"data":{"name":"ba"},"mark":{"type":"text","fontSize":28,"font":"Liberation Serif","color":"#111"},
"encoding":{"x":{"field":"tw","type":"quantitative","title":"Wavenumber (cm⁻¹)"},"y":{"field":"tv","type":"quantitative","title":"Absorbance (a.u.)"},"text":{"field":"t"}}},
{"data":{"name":"ba"},"mark":{"type":"text","fontSize":15,"font":"Liberation Sans","color":"#222"},
"encoding":{"x":{"field":"sw","type":"quantitative","title":"Wavenumber (cm⁻¹)"},"y":{"field":"sv","type":"quantitative","title":"Absorbance (a.u.)"},"text":{"field":"st"}}}
]},
{"width":415,"height":333,
"layer":[
{"data":{"name":"lb"},"mark":{"type":"line","strokeWidth":1.3},
"encoding":{
"x":{"field":"w","type":"quantitative","title":"Wavenumbers (cm⁻¹)","scale":{"domain":[1000,2500],"reverse":true,"nice":false,"zero":false},
"axis":{"values":[2500,2400,2300,2200,2100,2000,1900,1800,1700,1600,1500,1400,1300,1200,1100,1000],"format":"d","labelExpr":"datum.value % 200 == 0 && datum.value != 2500 ? datum.label : ''","tickSize":{"condition":{"test":"datum.value % 200 == 0","value":7},"value":4},"titlePadding":10}},
"y":{"field":"v","type":"quantitative","title":"Absorbance (a.u.)","scale":{"domain":[-0.075,0.275],"nice":false,"zero":false},
"axis":{"values":[-0.05,-0.025,0,0.025,0.05,0.075,0.1,0.125,0.15,0.175,0.2,0.225,0.25,0.275],"format":".2f","labelPadding":9,"labelExpr":"abs(datum.value*20 - round(datum.value*20)) < 0.01 ? datum.label : ''","tickSize":{"condition":{"test":"abs(datum.value*20 - round(datum.value*20)) < 0.01","value":7},"value":4},"titlePadding":12}},
"color":{"field":"s","type":"nominal","scale":{"domain":["BG","First min","10th min","20th min","30th min"],"range":["#8d8d8d","#e0506a","#78a7cb","#5b3a48","#d6aa2e"]},
"legend":{"orient":"none","legendX":45,"legendY":4,"title":null,"symbolType":"M-3,0H1","symbolSize":361,"symbolStrokeWidth":1.5,"labelFontSize":16,"labelFont":"Liberation Sans","labelColor":"#222","rowPadding":2,"padding":0,"labelOffset":3,"labelLimit":200}}}},
{"data":{"name":"pb"},"mark":{"type":"rule","color":"#777","strokeWidth":1},
"encoding":{"x":{"field":"w","type":"quantitative","title":"Wavenumbers (cm⁻¹)"},"y":{"field":"v","type":"quantitative","title":"Absorbance (a.u.)"},"y2":{"field":"v2"}}},
{"data":{"name":"pb"},"mark":{"type":"text","fontSize":12,"color":"#222","font":"Liberation Sans"},
"encoding":{"x":{"field":"tw","type":"quantitative","title":"Wavenumbers (cm⁻¹)"},"y":{"field":"tv","type":"quantitative","title":"Absorbance (a.u.)"},"text":{"field":"t"}}},
{"data":{"name":"bb"},"mark":{"type":"rect","fill":"white","stroke":"#111","strokeWidth":1},
"encoding":{"x":{"field":"w","type":"quantitative","title":"Wavenumbers (cm⁻¹)"},"x2":{"field":"w2"},"y":{"field":"v","type":"quantitative","title":"Absorbance (a.u.)"},"y2":{"field":"v2"}}},
{"data":{"name":"bb"},"mark":{"type":"text","fontSize":28,"font":"Liberation Serif","color":"#111"},
"encoding":{"x":{"field":"tw","type":"quantitative","title":"Wavenumbers (cm⁻¹)"},"y":{"field":"tv","type":"quantitative","title":"Absorbance (a.u.)"},"text":{"field":"t"}}},
{"data":{"name":"bb"},"mark":{"type":"text","fontSize":16,"font":"Liberation Sans","color":"#222"},
"encoding":{"x":{"field":"sw","type":"quantitative","title":"Wavenumbers (cm⁻¹)"},"y":{"field":"sv","type":"quantitative","title":"Absorbance (a.u.)"},"text":{"field":"st"}}}
]}
]
}
